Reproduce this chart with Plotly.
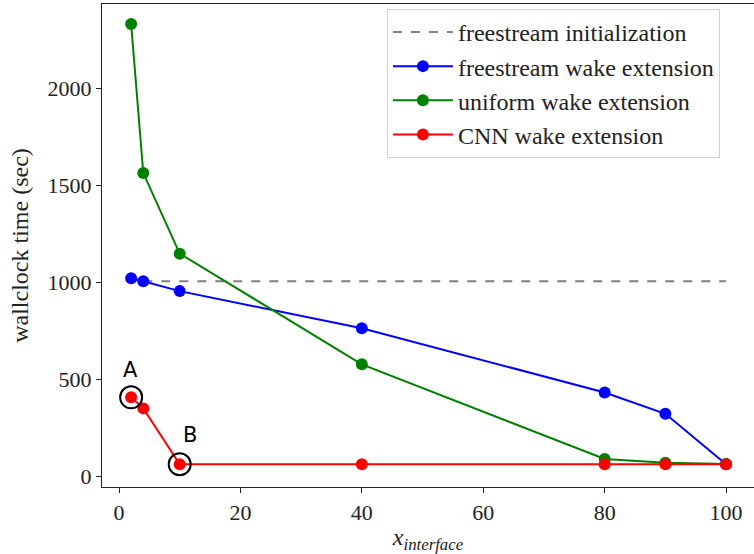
import plotly.graph_objects as go

# interface positions
x_interface = [2, 4, 10, 40, 80, 90, 100]

# wallclock times (sec)
freestream_init_x = [4, 100]
freestream_init = [1005, 1005]
freestream_wake = [1020, 1005, 954, 763, 432, 322, 62]
uniform_wake = [2330, 1562, 1147, 577, 89, 70, 63]
cnn_wake = [407, 350, 62, 62, 62, 62, 62]

# highlighted points
marked_x = [2, 10]
marked_y = [407, 62]
marked_labels = ["A", "B"]

serif = "Liberation Serif"

fig = go.Figure()
fig.add_trace(go.Scatter(
    x=freestream_init_x, y=freestream_init, mode="lines",
    line=dict(color="gray", width=2, dash="dash"),
    name="freestream initialization"))
fig.add_trace(go.Scatter(
    x=x_interface, y=freestream_wake, mode="lines+markers",
    line=dict(color="blue", width=2), marker=dict(size=12, color="blue"),
    name="freestream wake extension"))
fig.add_trace(go.Scatter(
    x=x_interface, y=uniform_wake, mode="lines+markers",
    line=dict(color="green", width=2), marker=dict(size=12, color="green"),
    name="uniform wake extension"))
fig.add_trace(go.Scatter(
    x=x_interface, y=cnn_wake, mode="lines+markers",
    line=dict(color="red", width=2), marker=dict(size=12, color="red"),
    name="CNN wake extension"))
fig.add_trace(go.Scatter(
    x=marked_x, y=marked_y, mode="markers",
    marker=dict(size=22, color="rgba(0,0,0,0)", line=dict(color="black", width=2)),
    showlegend=False, hoverinfo="skip"))

for xm, ym, lab, dx, dy in zip(marked_x, marked_y, marked_labels, [-0.1, 1.7], [142, 152]):
    fig.add_annotation(x=xm + dx, y=ym + dy, text=lab, showarrow=False,
                       font=dict(family="DejaVu Sans", size=21, color="black"))

axis_common = dict(
    showline=True, mirror=True, linecolor="#222", linewidth=1.3,
    ticks="outside", ticklen=5, tickwidth=1.2, tickcolor="#222",
    showgrid=False, zeroline=False,
    tickfont=dict(family=serif, size=22, color="#222"),
)

fig.update_layout(
    width=754, height=554,
    margin=dict(l=102, r=0, t=4, b=67),
    paper_bgcolor="white", plot_bgcolor="white",
    xaxis=dict(range=[-2.8, 104.6], tickvals=[0, 20, 40, 60, 80, 100],
               title=dict(text="<i>x</i><sub><i>interface</i></sub>",
                          font=dict(family=serif, size=24, color="#222"), standoff=4),
               **axis_common),
    yaxis=dict(range=[-55, 2433], tickvals=[0, 500, 1000, 1500, 2000],
               title=dict(text="wallclock time (sec)",
                          font=dict(family=serif, size=24, color="#222"), standoff=12),
               **axis_common),
    legend=dict(x=0.437, y=0.99, xanchor="left", yanchor="top",
                bgcolor="white", bordercolor="#d0d0d0", borderwidth=1,
                font=dict(family=serif, size=24, color="#222"),
                tracegroupgap=0, itemwidth=60),
    showlegend=True,
)

fig.write_html("out.html")
